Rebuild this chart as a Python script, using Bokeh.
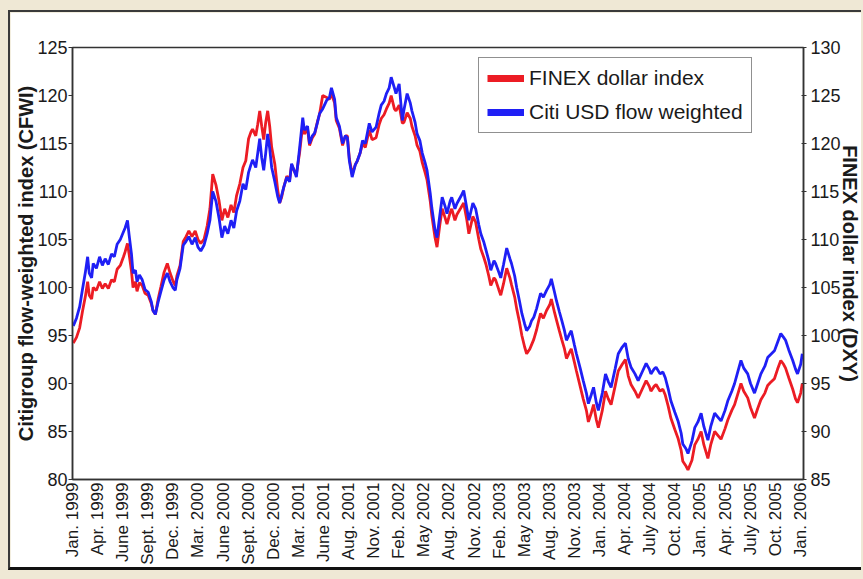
import math
from bokeh.plotting import figure
from bokeh.models import Range1d, LinearAxis, FixedTicker, Legend, LegendItem
from bokeh.embed import file_html
from bokeh.resources import INLINE

# x is a trading-day index from Jan. 1999 (63 trading days between labels)
tick_labels = ["Jan. 1999", "Apr. 1999", "June 1999", "Sept. 1999", "Dec. 1999",
               "Mar. 2000", "June 2000", "Sept. 2000", "Dec. 2000", "Mar. 2001",
               "June 2001", "Aug. 2001", "Nov. 2001", "Feb. 2002", "May 2002",
               "Aug. 2002", "Nov. 2002", "Feb. 2003", "May 2003", "Aug. 2003",
               "Nov. 2003", "Jan. 2004", "Apr. 2004", "July 2004", "Oct. 2004",
               "Jan. 2005", "Apr. 2005", "July 2005", "Oct. 2005", "Jan. 2006"]
tick_days = [63 * i for i in range(len(tick_labels))]

days = [2, 10, 18, 25, 32, 38, 42, 48, 52, 60, 68, 75, 82, 90, 98, 105, 112, 120, 128, 132,
        138, 142, 148, 152, 158, 162, 168, 175, 182, 190, 198, 202, 208, 215, 222, 230, 238, 245, 252, 258,
        262, 270, 278, 285, 292, 300, 308, 315, 322, 330, 338, 345, 352, 360, 368, 375, 382, 390, 398, 405,
        412, 420, 428, 435, 442, 448, 452, 460, 465, 470, 475, 480, 485, 490, 495, 500, 508, 515, 520, 525,
        530, 538, 545, 550, 558, 562, 570, 578, 582, 590, 595, 602, 608, 615, 620, 628, 638, 645, 650, 658,
        662, 670, 678, 685, 690, 695, 702, 710, 715, 722, 728, 735, 745, 752, 762, 770, 775, 782, 788, 795,
        800, 808, 812, 820, 828, 832, 840, 848, 852, 860, 865, 872, 878, 885, 890, 898, 902, 910, 915, 922,
        928, 935, 940, 948, 952, 960, 965, 975, 982, 990, 995, 1005, 1012, 1020, 1025, 1032, 1038, 1045, 1050, 1058,
        1062, 1070, 1075, 1082, 1090, 1098, 1102, 1110, 1115, 1122, 1128, 1135, 1140, 1148, 1152, 1158, 1165, 1170, 1175, 1182,
        1190, 1198, 1202, 1210, 1215, 1222, 1228, 1235, 1240, 1248, 1252, 1260, 1265, 1275, 1282, 1290, 1295, 1302, 1308, 1315,
        1320, 1330, 1338, 1345, 1352, 1362, 1370, 1380, 1388, 1395, 1402, 1412, 1420, 1430, 1440, 1448, 1452, 1460, 1465, 1475,
        1482, 1488, 1495, 1502, 1512, 1520, 1528, 1532, 1540, 1545, 1555, 1562, 1570, 1578, 1585, 1595, 1602, 1612, 1620, 1628,
        1638, 1645, 1655, 1662, 1670, 1678, 1685, 1695, 1702, 1712, 1720, 1728, 1738, 1745, 1752, 1762, 1770, 1778, 1785, 1790,
        1798, 1808, 1815, 1820, 1828, 1832]

# Citigroup flow-weighted index (left axis)
cfwi = [96.0, 96.8, 98.0, 99.8, 101.5, 103.2, 101.5, 101.0, 102.5, 102.0, 103.2, 102.3, 103.0, 102.4, 103.5, 103.2, 104.5, 105.0, 105.8, 106.2,
        107.0, 105.5, 103.5, 101.5, 101.8, 100.6, 101.3, 100.8, 99.8, 99.5, 98.5, 97.6, 97.2, 98.5, 99.6, 100.8, 101.5, 100.6, 100.0, 99.7,
        100.8, 102.0, 104.4, 104.8, 105.3, 104.5, 105.2, 104.2, 103.8, 104.4, 105.6, 107.0, 110.0, 109.0, 107.2, 105.2, 106.4, 105.6, 107.0, 106.2,
        108.0, 109.0, 110.8, 110.2, 112.0, 112.8, 113.3, 112.5, 114.0, 115.5, 113.5, 112.2, 114.0, 116.0, 114.5, 112.5, 111.0, 109.5, 108.8, 109.6,
        110.4, 111.5, 111.0, 112.9, 112.0, 111.5, 114.5, 117.7, 116.4, 116.8, 115.0, 115.8, 116.1, 117.2, 118.1, 118.6, 119.5, 119.8, 120.8, 119.6,
        117.7, 116.8, 115.0, 115.8, 115.6, 113.2, 111.5, 112.8, 113.2, 114.0, 115.3, 115.0, 117.1, 116.2, 116.7, 118.2, 119.0, 119.4, 120.2, 120.8,
        121.9, 120.8, 120.2, 121.2, 117.4, 118.5, 120.2, 119.2, 118.4, 117.2, 116.0, 115.3, 114.0, 113.0, 112.2, 109.8, 108.3, 106.0, 105.2, 107.5,
        109.4, 108.5, 107.7, 109.0, 109.4, 108.2, 108.75, 109.5, 110.1, 108.2, 107.0, 108.8, 108.2, 106.5, 105.6, 104.8, 103.9, 102.8, 101.8, 102.8,
        102.5, 101.6, 101.0, 102.4, 104.1, 103.0, 102.5, 101.2, 100.0, 98.6, 97.3, 96.2, 95.5, 96.0, 96.5, 96.9, 97.8, 98.6, 99.4, 99.0,
        99.7, 100.3, 100.9, 99.5, 98.6, 97.5, 96.6, 95.5, 94.5, 95.2, 95.5, 94.0, 93.1, 91.5, 90.3, 89.0, 87.9, 88.8, 89.6, 88.0,
        87.2, 89.0, 91.0, 90.2, 89.6, 91.5, 93.1, 93.8, 94.2, 92.6, 91.7, 91.0, 90.3, 91.2, 92.1, 91.5, 91.0, 91.5, 91.7, 91.0,
        91.2, 90.6, 89.5, 88.2, 87.0, 86.1, 84.8, 83.7, 83.2, 82.7, 84.0, 85.4, 86.0, 86.9, 85.5, 84.1, 85.5, 86.9, 86.5, 86.1,
        87.2, 88.2, 89.2, 90.0, 91.2, 92.4, 91.6, 91.0, 90.0, 89.0, 90.0, 91.0, 91.8, 92.7, 93.0, 93.4, 94.3, 95.2, 94.8, 94.5,
        93.5, 92.4, 91.5, 91.0, 92.0, 93.1]

# FINEX dollar index (right axis)
dxy = [99.2, 99.8, 100.8, 102.5, 104.0, 105.6, 104.2, 103.8, 105.0, 104.7, 105.6, 104.9, 105.4, 104.9, 105.8, 105.6, 106.9, 107.3, 108.2, 108.7,
       109.6, 108.5, 106.7, 105.0, 105.6, 104.6, 105.5, 105.2, 104.4, 104.2, 103.3, 102.6, 102.2, 103.8, 105.1, 106.6, 107.5, 106.5, 105.7, 105.2,
       106.2, 107.3, 109.8, 110.3, 110.9, 110.3, 110.9, 110.0, 109.6, 110.0, 111.4, 113.2, 116.8, 115.7, 114.0, 112.0, 113.2, 112.3, 113.6, 112.8,
       114.6, 115.8, 117.5, 118.2, 120.5, 121.2, 121.5, 120.8, 122.0, 123.4, 121.8, 120.4, 122.2, 123.4, 121.8, 119.6, 117.8, 115.2, 113.8, 114.4,
       115.4, 116.6, 116.2, 117.8, 117.0, 116.8, 119.0, 122.0, 121.0, 121.5, 119.8, 120.6, 121.0, 122.3, 123.0, 125.0, 124.8, 124.6, 125.2, 124.2,
       122.4, 121.6, 119.8, 120.8, 120.8, 118.4, 116.8, 117.8, 118.2, 119.0, 120.0, 119.6, 121.4, 120.4, 120.6, 122.0, 122.6, 123.0, 123.6, 124.2,
       125.0, 123.6, 123.4, 124.0, 122.1, 122.2, 123.2, 122.6, 121.8, 120.8, 119.8, 119.2, 118.0, 117.0, 116.2, 114.0, 112.5, 110.2, 109.2, 111.5,
       113.2, 112.3, 111.6, 112.8, 113.2, 112.0, 112.6, 113.3, 113.8, 112.0, 110.6, 112.4, 111.8, 110.0, 109.0, 108.2, 107.4, 106.2, 105.2, 106.0,
       105.8, 104.8, 104.2, 105.4, 107.0, 106.0, 105.3, 104.0, 102.8, 101.4, 100.0, 98.8, 98.1, 98.6, 99.0, 99.6, 100.6, 101.5, 102.3, 101.8,
       102.6, 103.2, 103.8, 102.4, 101.6, 100.5, 99.6, 98.6, 97.6, 98.3, 98.6, 97.2, 96.3, 94.6, 93.4, 92.2, 91.0, 91.9, 92.8, 91.2,
       90.4, 92.2, 94.2, 93.4, 92.8, 94.7, 96.3, 97.0, 97.5, 95.8, 94.9, 94.2, 93.5, 94.4, 95.3, 94.7, 94.2, 94.7, 94.9, 94.2,
       94.4, 93.8, 92.7, 91.4, 90.2, 89.3, 88.0, 86.9, 86.4, 86.0, 87.0, 88.6, 89.2, 90.0, 88.6, 87.2, 88.6, 90.0, 89.6, 89.2,
       90.3, 91.2, 92.2, 92.8, 93.9, 95.0, 94.2, 93.5, 92.5, 91.4, 92.4, 93.3, 94.0, 94.8, 95.1, 95.5, 96.5, 97.4, 97.0, 96.6,
       95.6, 94.4, 93.4, 93.0, 94.0, 95.0]

left_ticks = [80, 85, 90, 95, 100, 105, 110, 115, 120, 125]
right_ticks = [85, 90, 95, 100, 105, 110, 115, 120, 125, 130]
series_names = ["FINEX dollar index", "Citi USD flow weighted"]

FONT = "Liberation Sans"
TXT = "#1a1a1a"
AX = "#333333"
RED = "#ec1c24"
BLUE = "#1f1ff5"

p = figure(width=853, height=560, x_range=Range1d(0, 1835), y_range=Range1d(80, 125),
           output_backend="svg", toolbar_location=None,
           min_border_left=62, min_border_right=60, min_border_top=35, min_border_bottom=93,
           background_fill_color="white", border_fill_color="white",
           outline_line_color=AX, outline_line_width=1.5)
p.extra_y_ranges = {"dxy": Range1d(85, 130)}
p.grid.visible = False

p.line(days, dxy, y_range_name="dxy", line_color=RED, line_width=2.8)
p.line(days, cfwi, line_color=BLUE, line_width=2.8)

# thick swatches used only by the legend (a single NaN point draws nothing)
leg_red = p.line(x=[math.nan], y=[math.nan], line_color=RED, line_width=7)
leg_blue = p.line(x=[math.nan], y=[math.nan], line_color=BLUE, line_width=7)

xa = p.xaxis[0]
xa.ticker = FixedTicker(ticks=tick_days)
xa.major_label_overrides = {d: l for d, l in zip(tick_days, tick_labels)}
xa.major_label_orientation = math.pi / 2
xa.major_tick_out = 0
xa.major_tick_in = 0
xa.minor_tick_out = 0
xa.minor_tick_in = 0
xa.major_label_standoff = 3

ya = p.yaxis[0]
ya.ticker = FixedTicker(ticks=left_ticks)
ya.axis_label = "Citigroup flow-weighted index (CFWI)"
ya.major_tick_out = 4
ya.major_tick_in = 0
ya.minor_tick_out = 0
ya.minor_tick_in = 0
ya.major_label_standoff = 1
ya.axis_label_standoff = -3

ra = LinearAxis(y_range_name="dxy", ticker=FixedTicker(ticks=right_ticks),
                axis_label="FINEX dollar index (DXY)")
ra.major_tick_out = 3
ra.major_tick_in = 2
ra.minor_tick_out = 0
ra.minor_tick_in = 0
ra.major_label_standoff = 4
ra.axis_label_standoff = -5
p.add_layout(ra, "right")

for ax in [xa, ya, ra]:
    ax.axis_line_color = AX
    ax.axis_line_width = 1.5
    ax.major_tick_line_color = AX
    ax.major_label_text_font = FONT
    ax.major_label_text_font_size = "18px"
    ax.major_label_text_color = TXT
    ax.axis_label_text_font = FONT
    ax.axis_label_text_font_size = "20px"
    ax.axis_label_text_font_style = "bold"
    ax.axis_label_text_color = TXT
xa.major_label_text_font_size = "17px"

lg = Legend(items=[LegendItem(label=series_names[0], renderers=[leg_red]),
                   LegendItem(label=series_names[1], renderers=[leg_blue])])
lg.location = (406, 346)
lg.border_line_color = "#222222"
lg.border_line_width = 1.2
lg.background_fill_color = "white"
lg.background_fill_alpha = 1.0
lg.label_text_font = FONT
lg.label_text_font_size = "21px"
lg.label_text_color = TXT
lg.glyph_width = 37
lg.glyph_height = 20
lg.label_standoff = 5
lg.spacing = 10
lg.padding = 8
lg.margin = 0
p.add_layout(lg)

p.styles = {"border-top": "2px solid #3a3a3a", "border-left": "2px solid #3a3a3a",
            "border-bottom": "3px solid #111111"}

template = """{% block postamble %}<style>
html, body { background: #efe8d5 !important; margin: 0 !important; padding: 0 !important; overflow: hidden !important; }
body { padding: 10px 0 0 8px !important; }
</style>{% endblock %}"""

html = file_html(p, INLINE, title="CFWI vs DXY", template=template)
open("out.html", "w").write(html)
